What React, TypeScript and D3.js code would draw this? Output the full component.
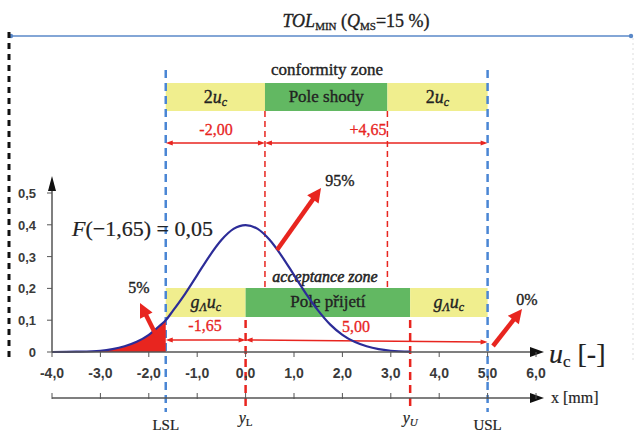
import React from "react";
import * as d3 from "d3";

// values
const U_TICKS = [-4, -3, -2, -1, 0, 1, 2, 3, 4, 5, 6];
const Y_TICKS = [0, 0.1, 0.2, 0.3, 0.4, 0.5];
const CURVE_U = [-4, -3.5, -3, -2.75, -2.5, -2.25, -2, -1.75, -1.65, -1.5, -1.25, -1, -0.75, -0.5, -0.25, 0, 0.25, 0.5, 0.75, 1, 1.25, 1.5, 1.75, 2, 2.25, 2.5, 2.75, 3, 3.4];
const CURVE_P = [0, 0.001, 0.004, 0.009, 0.018, 0.032, 0.054, 0.086, 0.1, 0.13, 0.183, 0.242, 0.301, 0.352, 0.387, 0.399, 0.387, 0.352, 0.301, 0.242, 0.183, 0.13, 0.086, 0.054, 0.032, 0.018, 0.009, 0.004, 0.001];
const LSL = -1.65;
const USL = 5.0;
const Y_L = 0;
const Y_U = 3.4;
const CONF_L = 0.4;
const CONF_U = 2.93;

const W = 639;
const H = 435;
const SERIF = "'Liberation Serif', 'DejaVu Serif', serif";
const SANS = "'Liberation Sans', Arial, sans-serif";
const RED = "#e8251f";
const BLUE = "#4a86d4";
const YELLOW = "#f0ee8e";
const GREEN = "#62b862";
const NAVY = "#2c2c98";
const INK = "#222";

const fmt = (v: number) => v.toFixed(1).replace(".", ",");

function Arrow({ x1, y1, x2, y2, color, sw, hl, hw, both }: any) {
  const ang = Math.atan2(y2 - y1, x2 - x1);
  const head = (x: number, y: number, a: number) => {
    const bx = x - hl * Math.cos(a);
    const by = y - hl * Math.sin(a);
    const px = (hw / 2) * Math.sin(a);
    const py = (hw / 2) * Math.cos(a);
    return `${x},${y} ${bx + px},${by - py} ${bx - px},${by + py}`;
  };
  const sx = both ? x1 + hl * 0.8 * Math.cos(ang) : x1;
  const sy = both ? y1 + hl * 0.8 * Math.sin(ang) : y1;
  return (
    <g>
      <line x1={sx} y1={sy} x2={x2 - hl * 0.8 * Math.cos(ang)} y2={y2 - hl * 0.8 * Math.sin(ang)} stroke={color} strokeWidth={sw} />
      <polygon points={head(x2, y2, ang)} fill={color} />
      {both && <polygon points={head(x1, y1, ang + Math.PI)} fill={color} />}
    </g>
  );
}

export default function App() {
  const x = d3.scaleLinear().domain([-4, 6]).range([52, 536]);
  const y = d3.scaleLinear().domain([0, 0.5]).range([352, 193]);

  const pts = CURVE_U.map((u, i) => [u, CURVE_P[i]] as [number, number]);
  const line = d3.line<[number, number]>().x(d => x(d[0])).y(d => y(d[1])).curve(d3.curveMonotoneX);
  const tail = pts.filter(d => d[0] <= LSL);
  const area = d3.area<[number, number]>().x(d => x(d[0])).y0(y(0)).y1(d => y(d[1])).curve(d3.curveMonotoneX);

  const confTop = 83, confBot = 111;
  const accTop = 288, accBot = 317;
  const axis2 = 398;

  // serif text looks heavy in the scanned reference
  const txt = { fontFamily: SERIF, fill: INK, stroke: INK, strokeWidth: 0.35 };
  const red = { fontFamily: SERIF, fill: RED, stroke: RED, strokeWidth: 0.3 };

  return (
    <div style={{ position: "absolute", left: 0, top: 0 }}>
      <svg width={W} height={H} style={{ display: "block", background: "#fff" }}>
        {/* TOL line */}
        <line x1={10} y1={36} x2={632} y2={36} stroke="#5a88c8" strokeWidth={1.5} />
        <circle cx={11} cy={36} r={2.2} fill="#5a88c8" />
        <circle cx={631} cy={36} r={2.2} fill="#5a88c8" />
        <text x={356} y={27} textAnchor="middle" fontSize={18} {...txt}>
          <tspan fontStyle="italic">TOL</tspan>
          <tspan fontSize={11} dy={3}>MIN</tspan>
          <tspan dy={-3}> (</tspan>
          <tspan fontStyle="italic">Q</tspan>
          <tspan fontSize={11} dy={3}>MS</tspan>
          <tspan dy={-3}>=15 %)</tspan>
        </text>
        <line x1={9} y1={32} x2={9} y2={362} stroke="#111" strokeWidth={3} strokeDasharray="6,5" />
        <line x1={633} y1={38} x2={633} y2={362} stroke="#ddd" strokeWidth={1} strokeDasharray="2,3" />

        {/* conformity zone */}
        <text x={327} y={75} textAnchor="middle" fontSize={17} {...txt}>conformity zone</text>
        <rect x={x(LSL)} y={confTop} width={x(CONF_L) - x(LSL)} height={confBot - confTop} fill={YELLOW} />
        <rect x={x(CONF_L)} y={confTop} width={x(CONF_U) - x(CONF_L)} height={confBot - confTop} fill={GREEN} />
        <rect x={x(CONF_U)} y={confTop} width={x(USL) - x(CONF_U)} height={confBot - confTop} fill={YELLOW} />
        <text x={(x(LSL) + x(CONF_L)) / 2} y={103} textAnchor="middle" fontSize={18} {...txt}>
          2<tspan fontStyle="italic">u</tspan><tspan fontStyle="italic" fontSize={12} dy={3}>c</tspan>
        </text>
        <text x={(x(CONF_L) + x(CONF_U)) / 2} y={102} textAnchor="middle" fontSize={17} {...txt}>Pole shody</text>
        <text x={(x(CONF_U) + x(USL)) / 2} y={103} textAnchor="middle" fontSize={18} {...txt}>
          2<tspan fontStyle="italic">u</tspan><tspan fontStyle="italic" fontSize={12} dy={3}>c</tspan>
        </text>
        <text x={216} y={135} textAnchor="middle" fontSize={16} {...red}>-2,00</text>
        <text x={x(CONF_U) - 1} y={135} textAnchor="end" fontSize={16} {...red}>+4,65</text>

        {/* acceptance zone */}
        <text x={325} y={282} textAnchor="middle" fontSize={16} fontStyle="italic" {...txt} strokeWidth={0.5}>acceptance zone</text>
        <rect x={x(LSL)} y={accTop} width={x(Y_L) - x(LSL)} height={accBot - accTop} fill={YELLOW} />
        <rect x={x(Y_L)} y={accTop} width={x(Y_U) - x(Y_L)} height={accBot - accTop} fill={GREEN} />
        <rect x={x(Y_U)} y={accTop} width={x(USL) - x(Y_U)} height={accBot - accTop} fill={YELLOW} />
        <text x={(x(LSL) + x(Y_L)) / 2} y={308} textAnchor="middle" fontSize={18} fontStyle="italic" {...txt}>
          g<tspan fontSize={12} dy={3}>Λ</tspan><tspan dy={-3}>u</tspan><tspan fontSize={12} dy={3}>c</tspan>
        </text>
        <text x={(x(Y_L) + x(Y_U)) / 2} y={307} textAnchor="middle" fontSize={17} {...txt}>Pole přijetí</text>
        <text x={(x(Y_U) + x(USL)) / 2} y={308} textAnchor="middle" fontSize={18} fontStyle="italic" {...txt}>
          g<tspan fontSize={12} dy={3}>Λ</tspan><tspan dy={-3}>u</tspan><tspan fontSize={12} dy={3}>c</tspan>
        </text>
        <text x={205} y={331} textAnchor="middle" fontSize={16} {...red}>-1,65</text>
        <text x={356} y={332} textAnchor="middle" fontSize={16} {...red}>5,00</text>

        {/* spec limit lines */}
        {[LSL, USL].map(v => (
          <line key={v} x1={x(v)} y1={70} x2={x(v)} y2={412} stroke={BLUE} strokeWidth={2.5} strokeDasharray="8,5" />
        ))}
        {[CONF_L, CONF_U].map(v => (
          <line key={v} x1={x(v)} y1={confBot} x2={x(v)} y2={accTop} stroke={RED} strokeWidth={1.5} strokeDasharray="6,4" />
        ))}
        {[Y_L, Y_U].map(v => (
          <line key={v} x1={x(v)} y1={accBot + 3} x2={x(v)} y2={408} stroke={RED} strokeWidth={2.5} strokeDasharray="8,5" />
        ))}

        {/* dimension arrows */}
        <Arrow x1={x(LSL)} y1={143} x2={x(CONF_L)} y2={143} color={RED} sw={1.5} hl={7} hw={5} both />
        <Arrow x1={x(CONF_L)} y1={143} x2={x(USL)} y2={143} color={RED} sw={1.5} hl={7} hw={5} both />
        <Arrow x1={x(LSL)} y1={340} x2={x(Y_L)} y2={340} color={RED} sw={1.5} hl={7} hw={5} both />
        <Arrow x1={x(Y_L)} y1={340} x2={x(USL)} y2={342} color={RED} sw={1.5} hl={7} hw={5} both />

        {/* curve */}
        <path d={area(tail) || ""} fill={RED} />
        <path d={line(pts) || ""} fill="none" stroke={NAVY} strokeWidth={2.2} />

        {/* y axis */}
        <line x1={x(-4)} y1={y(0)} x2={x(-4)} y2={184} stroke="#555" strokeWidth={1.5} />
        <polygon points={`${x(-4)},176 ${x(-4) - 4},191 ${x(-4) + 4},191`} fill="#111" />
        {Y_TICKS.map(t => (
          <g key={t}>
            <line x1={x(-4) - 5} y1={y(t)} x2={x(-4)} y2={y(t)} stroke="#555" />
            <text x={36} y={y(t) + 5} textAnchor="end" fontFamily={SANS} fontSize={13} fontWeight="bold" fill="#3a3a3a">{t === 0 ? "0" : fmt(t)}</text>
          </g>
        ))}

        {/* u axis */}
        <line x1={x(-4)} y1={y(0)} x2={536} y2={y(0)} stroke="#555" strokeWidth={1.5} />
        <polygon points={`544,${y(0)} 530,${y(0) - 5} 530,${y(0) + 5}`} fill="#111" />
        {U_TICKS.map(t => (
          <g key={t}>
            <line x1={x(t)} y1={y(0)} x2={x(t)} y2={y(0) + 5} stroke="#555" />
            <text x={x(t)} y={378} textAnchor="middle" fontFamily={SANS} fontSize={14} fontWeight="bold" fill="#3a3a3a">{fmt(t)}</text>
          </g>
        ))}
        <text x={549} y={363} fontSize={28} {...txt} strokeWidth={0.2}>
          <tspan fontStyle="italic">u</tspan><tspan fontSize={17} dy={4}>c</tspan><tspan dy={-4}> [-]</tspan>
        </text>

        {/* x axis */}
        <line x1={x(-4)} y1={axis2} x2={536} y2={axis2} stroke="#555" strokeWidth={1.5} />
        <polygon points={`544,${axis2} 530,${axis2 - 5} 530,${axis2 + 5}`} fill="#111" />
        {U_TICKS.map(t => (
          <line key={t} x1={x(t)} y1={axis2 - 5} x2={x(t)} y2={axis2 + 1} stroke="#555" />
        ))}
        <text x={551} y={403} fontSize={16} {...txt} strokeWidth={0.2}>x [mm]</text>
        <text x={x(LSL)} y={430} textAnchor="middle" fontSize={15} {...txt} strokeWidth={0.2}>LSL</text>
        <text x={x(USL)} y={430} textAnchor="middle" fontSize={15} {...txt} strokeWidth={0.2}>USL</text>
        <text x={x(Y_L)} y={423} textAnchor="middle" fontSize={16} {...txt} strokeWidth={0.2}>
          <tspan fontStyle="italic">y</tspan><tspan fontSize={11} dy={3}>L</tspan>
        </text>
        <text x={x(Y_U)} y={423} textAnchor="middle" fontSize={16} fontStyle="italic" {...txt} strokeWidth={0.2}>
          y<tspan fontSize={11} dy={3}>U</tspan>
        </text>

        {/* annotations */}
        <text x={72} y={236} fontSize={22} {...txt} strokeWidth={0.2}>
          <tspan fontStyle="italic">F</tspan>(−1,65) = 0,05
        </text>
        <text x={139} y={293} textAnchor="middle" fontSize={16} {...txt}>5%</text>
        <text x={340} y={186} textAnchor="middle" fontSize={16} {...txt}>95%</text>
        <text x={527} y={305} textAnchor="middle" fontSize={16} {...txt}>0%</text>
        <Arrow x1={157} y1={337} x2={140} y2={303} color={RED} sw={4.5} hl={14} hw={14} />
        <Arrow x1={277} y1={250} x2={321} y2={188} color={RED} sw={4.5} hl={14} hw={14} />
        <Arrow x1={493} y1={346} x2={522} y2={309} color={RED} sw={4.5} hl={14} hw={14} />
      </svg>
    </div>
  );
}
